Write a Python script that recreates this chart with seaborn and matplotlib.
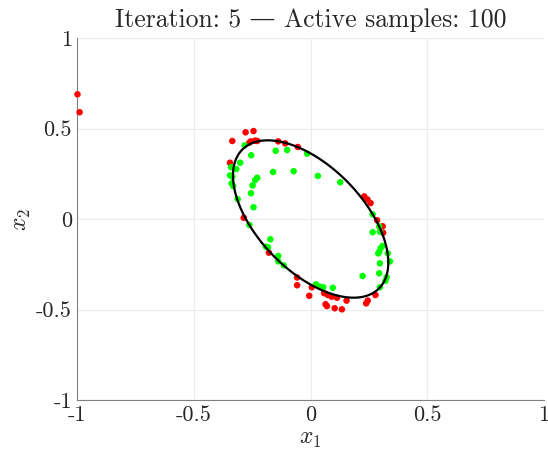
import numpy as np
import pandas as pd
import seaborn as sns
import matplotlib
matplotlib.use("Agg")
import matplotlib.pyplot as plt

# active samples
red_x = [-0.279, -0.245, -0.336, -0.263, -0.257, -0.238, -0.229, -0.139, -0.109, -0.055,
         -0.346, -0.287, 0.230, 0.244, 0.257, 0.285, 0.309, 0.311, -0.179, -0.058,
         -0.058, 0.005, -0.006, 0.058, 0.074, 0.090, 0.113, 0.154, 0.064, 0.070,
         0.103, 0.134, 0.278, 0.245, 0.238, -1.0, -0.991]
red_y = [0.479, 0.486, 0.431, 0.422, 0.429, 0.433, 0.431, 0.429, 0.418, 0.398,
         0.311, 0.007, 0.125, 0.108, 0.088, -0.007, -0.040, -0.076, -0.186, -0.323,
         -0.366, -0.377, -0.424, -0.410, -0.420, -0.429, -0.435, -0.451, -0.471, -0.481,
         -0.493, -0.499, -0.420, -0.451, -0.466, 0.689, 0.590]

green_x = [-0.283, -0.255, -0.150, -0.101, -0.015, -0.302, -0.341, -0.319, -0.346, -0.336,
           -0.339, -0.332, -0.161, -0.073, 0.031, -0.229, -0.238, -0.249, -0.256, -0.313,
           -0.245, -0.263, 0.127, 0.266, 0.294, 0.266, 0.297, 0.308, 0.300, 0.294,
           0.290, 0.331, 0.340, 0.297, 0.294, 0.223, 0.326, 0.321, 0.297, -0.173,
           -0.192, -0.183, -0.139, -0.139, -0.115, 0.023, 0.040, 0.054, 0.095]
green_y = [0.407, 0.352, 0.377, 0.381, 0.361, 0.311, 0.286, 0.276, 0.241, 0.234,
           0.197, 0.182, 0.260, 0.264, 0.238, 0.228, 0.215, 0.185, 0.142, 0.110,
           0.065, -0.033, 0.203, 0.026, -0.041, -0.073, -0.070, -0.149, -0.162, -0.182,
           -0.190, -0.190, -0.234, -0.245, -0.300, -0.315, -0.322, -0.341, -0.377, -0.112,
           -0.153, -0.156, -0.204, -0.234, -0.256, -0.361, -0.374, -0.377, -0.380]

# fitted ellipse (centre + shape matrix)
ell_center = [0.0, 0.0]
ell_cov = [[0.111, -0.080], [-0.080, 0.189]]

ticks = [-1, -0.5, 0, 0.5, 1]
tick_labels = ['-1', '-0.5', '0', '0.5', '1']

sns.set_style("white")
plt.rcParams['font.family'] = ['cmr10', 'DejaVu Serif']
plt.rcParams['mathtext.fontset'] = 'cm'
plt.rcParams['axes.formatter.use_mathtext'] = True

fig = plt.figure(figsize=(5.48, 4.59), dpi=100)
ax = fig.add_axes([0.1414, 0.1285, 0.8509, 0.7887])

df = pd.concat([
    pd.DataFrame({'x': red_x, 'y': red_y, 'kind': 'out'}),
    pd.DataFrame({'x': green_x, 'y': green_y, 'kind': 'in'}),
])
sns.scatterplot(data=df, x='x', y='y', hue='kind', palette={'out': '#ff0000', 'in': '#00ff00'},
                s=22, linewidth=0, legend=False, ax=ax, clip_on=False, zorder=3)

# ellipse outline
vals, vecs = np.linalg.eigh(np.array(ell_cov))
t = np.linspace(0, 2 * np.pi, 300)
circ = np.vstack([np.cos(t), np.sin(t)])
pts = vecs @ np.diag(np.sqrt(vals)) @ circ
ax.plot(pts[0] + ell_center[0], pts[1] + ell_center[1], color='black', lw=1.6, zorder=4)

ax.set_xlim(-1, 1)
ax.set_ylim(-1, 1)
ax.set_xticks(ticks)
ax.set_yticks(ticks)
ax.set_xticklabels(tick_labels, fontsize=16)
ax.set_yticklabels(tick_labels, fontsize=16)
ax.grid(True, color='#ebebeb', lw=0.8)
ax.tick_params(direction='in', length=3, width=0.8, color='#808080', pad=4)
for s in ['top', 'right']:
    ax.spines[s].set_visible(False)
for s in ['left', 'bottom']:
    ax.spines[s].set_color('#808080')
    ax.spines[s].set_linewidth(0.8)

ax.set_xlabel(r'$x_1$', fontsize=17, labelpad=2)
ax.set_ylabel(r'$x_2$', fontsize=17, labelpad=2)
ax.set_title('Iteration: 5 \u2014 Active samples: 100', fontsize=18.5, pad=8)

fig.savefig('out.png', dpi=100)
